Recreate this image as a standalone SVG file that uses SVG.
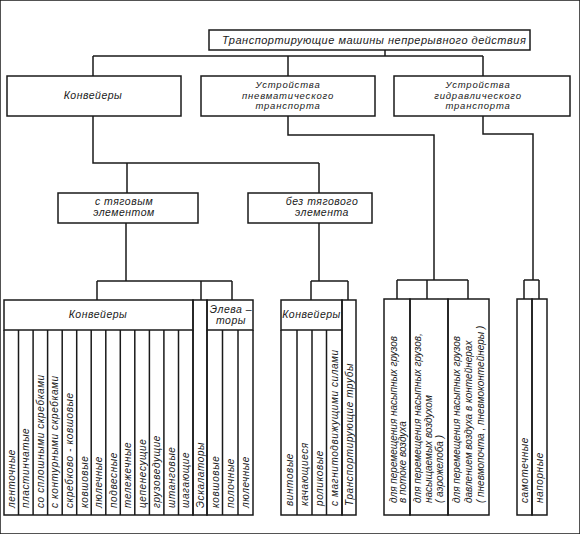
<svg xmlns="http://www.w3.org/2000/svg" width="580" height="534" viewBox="0 0 580 534">
<style>
rect, path { fill: none; stroke: #1a1a1a; stroke-width: 1.5; }
text { font-family: "Liberation Sans", "DejaVu Sans", sans-serif; font-style: italic; font-size: 10.5px; fill: #1a1a1a; letter-spacing: 0.5px; }
.c { text-anchor: middle; }
.m { font-size: 9.5px; letter-spacing: 0.8px; }
.v { font-size: 10px; letter-spacing: 0.6px; }
.p { font-size: 10px; letter-spacing: 0px; }
</style>
<rect x="0" y="0" width="580" height="534" fill="#ffffff" stroke="none"/>
<g id="connectors">
<path d="M385 50V56M93 56H483M93 56V76M288 56V76M483 56V76"/>
<path d="M93 116V163H319M127 163V193M319 163V193"/>
<path d="M288 116V135H434V280M397 280H468M397 280V299M427 280V299M468 280V299"/>
<path d="M483 116V134H533V280M524 280H539M524 280V299M539 280V299"/>
<path d="M126 223V281M97 281H232M97 281V300M201 281V300M232 281V300"/>
<path d="M319 223V281M311 281H348M311 281V300M348 281V300"/>
</g>
<g id="title">
<rect x="209" y="30" width="321" height="20"/>
<text x="222" y="44" style="font-size:11px;letter-spacing:0.5px">Транспортирующие  машины  непрерывного  действия</text>
</g>
<g id="konveyery">
<rect x="7" y="76" width="174" height="40"/>
<text class="c" x="93" y="99">Конвейеры</text>
</g>
<g id="pnevmo">
<rect x="201" y="76" width="174" height="40"/>
<text class="c m" x="288" y="88">Устройства</text>
<text class="c m" x="288" y="98.5">пневматического</text>
<text class="c m" x="288" y="109">транспорта</text>
</g>
<g id="gidro">
<rect x="394" y="76" width="176" height="40"/>
<text class="c m" x="478" y="88">Устройства</text>
<text class="c m" x="478" y="98.5">гидравлического</text>
<text class="c m" x="478" y="109">транспорта</text>
</g>
<g id="s-tyagovym">
<rect x="58" y="193" width="140" height="30"/>
<text class="c" x="124" y="205">с тяговым</text>
<text class="c" x="124" y="216">элементом</text>
</g>
<g id="bez-tyagovogo">
<rect x="248" y="193" width="124" height="30"/>
<text class="c" x="322" y="205">без тягового</text>
<text class="c" x="322" y="216">элемента</text>
</g>
<g id="konveyery-tyag">
<rect x="4" y="300" width="189" height="30"/>
<text class="c" x="98" y="318">Конвейеры</text>
<path d="M4 330V515H193V330M18.5 330V515M33.1 330V515M47.6 330V515M62.2 330V515M76.7 330V515M91.2 330V515M105.8 330V515M120.3 330V515M134.8 330V515M149.4 330V515M163.9 330V515M178.5 330V515"/>
<text class="v" transform="translate(14.8,508) rotate(-90)">ленточные</text>
<text class="v" transform="translate(29.3,508) rotate(-90)">пластинчатые</text>
<text class="v" transform="translate(43.8,508) rotate(-90)">со сплошными  скребками</text>
<text class="v" transform="translate(58.4,508) rotate(-90)">с контурными скребками</text>
<text class="v" transform="translate(72.9,508) rotate(-90)">скребково - ковшовые</text>
<text class="v" transform="translate(87.5,508) rotate(-90)">ковшовые</text>
<text class="v" transform="translate(102,508) rotate(-90)">люлечные</text>
<text class="v" transform="translate(116.5,508) rotate(-90)">подвесные</text>
<text class="v" transform="translate(131.1,508) rotate(-90)">тележечные</text>
<text class="v" transform="translate(145.6,508) rotate(-90)">цепенесущие</text>
<text class="v" transform="translate(160.2,508) rotate(-90)">грузоведущие</text>
<text class="v" transform="translate(174.7,508) rotate(-90)">штанговые</text>
<text class="v" transform="translate(189.2,508) rotate(-90)">шагающие</text>
</g>
<g id="eskalatory">
<rect x="193" y="300" width="14" height="215"/>
<text class="v" transform="translate(203.5,508) rotate(-90)">Эскалаторы</text>
</g>
<g id="elevatory">
<rect x="207" y="300" width="46" height="30"/>
<text class="c" x="231" y="313">Элева –</text>
<text class="c" x="231" y="324">торы</text>
<path d="M207 330V515H253V330M222.5 330V515M238 330V515"/>
<text class="v" transform="translate(218.5,508) rotate(-90)">ковшовые</text>
<text class="v" transform="translate(234,508) rotate(-90)">полочные</text>
<text class="v" transform="translate(249,508) rotate(-90)">люлечные</text>
</g>
<g id="konveyery-bez">
<rect x="281" y="300" width="61" height="30"/>
<text class="c" x="311.5" y="318">Конвейеры</text>
<path d="M281 330V515H342V330M297 330V515M312 330V515M326.5 330V515"/>
<text class="v" transform="translate(292.5,506) rotate(-90)">винтовые</text>
<text class="v" transform="translate(308,506) rotate(-90)">качающиеся</text>
<text class="v" transform="translate(322.5,506) rotate(-90)">роликовые</text>
<text class="v" transform="translate(337.5,506) rotate(-90)">с магнитодвижущими силами</text>
</g>
<g id="truby">
<rect x="342" y="300" width="14" height="215"/>
<text class="v" transform="translate(352.5,506) rotate(-90)">Транспортирующие трубы</text>
</g>
<g id="pnevmo-vidy">
<rect x="384" y="299" width="26" height="216"/>
<rect x="410" y="299" width="38" height="216"/>
<rect x="448" y="299" width="41" height="216"/>
<text class="p" transform="translate(396.5,503) rotate(-90)">для перемещения насыпных грузов</text>
<text class="p" transform="translate(406,503) rotate(-90)">в потоке воздуха</text>
<text class="p" transform="translate(420.5,503) rotate(-90)">для перемещения насыпных грузов,</text>
<text class="p" transform="translate(431.5,503) rotate(-90)">насыщаемых воздухом</text>
<text class="p" transform="translate(442.5,503) rotate(-90)">( аэрожелоба )</text>
<text class="p" transform="translate(459.5,503) rotate(-90)">для перемещения насыпных грузов</text>
<text class="p" transform="translate(471.5,503) rotate(-90)">давлением воздуха в контейнерах</text>
<text class="p" transform="translate(484,503) rotate(-90)">( пневмопочта , пневмоконтейнеры )</text>
</g>
<g id="gidro-vidy">
<rect x="517" y="299" width="15" height="216"/>
<rect x="532" y="299" width="15" height="216"/>
<text class="v" transform="translate(528,503) rotate(-90)">самотечные</text>
<text class="v" transform="translate(543,503) rotate(-90)">напорные</text>
</g>
</svg>
